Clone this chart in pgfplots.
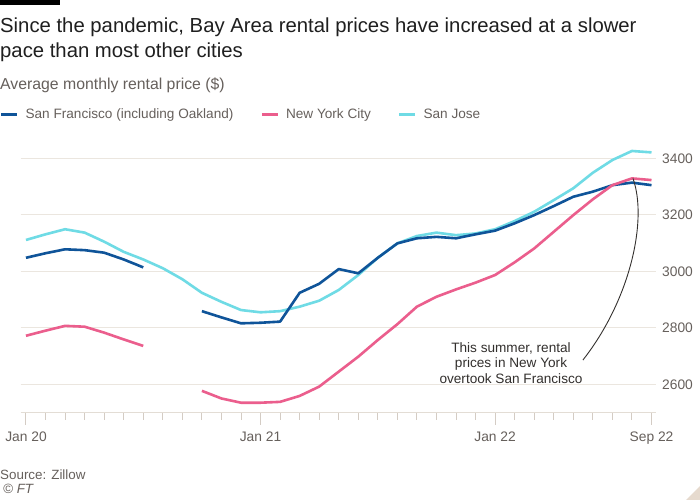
\documentclass[border=0pt]{standalone}
\usepackage{fontspec}
\setmainfont{Liberation Sans}
\usepackage{pgfplots}
\usepackage{pgfplotstable}
\pgfplotsset{compat=1.18}
\definecolor{sfblue}{HTML}{0F5499}
\definecolor{nycpink}{HTML}{EB5E8D}
\definecolor{sjcyan}{HTML}{6FDBE5}
\definecolor{gridc}{HTML}{EBE6DF}
\definecolor{axisc}{HTML}{E3DDD5}
\definecolor{tickc}{HTML}{D4CCC4}
\definecolor{greytext}{HTML}{66605C}
\definecolor{darktext}{HTML}{1F1F1F}
\definecolor{annot}{HTML}{33302E}
\definecolor{corner}{HTML}{E6DACE}

\pgfplotstableread{
m sf nyc sj
0 3048 2772 3111
1 3064 2790 3131
2 3078 2807 3149
3 3075 2804 3137
4 3066 2783 3105
5 3042 2759 3069
6 3014 2736 3042
7 nan nan 3011
8 nan nan 2972
9 2859 2577 2924
10 2837 2550 2892
11 2816 2535 2863
12 2818 2535 2855
13 2822 2538 2859
14 2924 2559 2875
15 2956 2592 2896
16 3008 2645 2934
17 2993 2698 2987
18 3048 2757 3048
19 3099 2813 3099
20 3117 2875 3125
21 3122 2910 3137
22 3117 2936 3128
23 3131 2960 3134
24 3144 2987 3149
25 3170 3032 3178
26 3199 3081 3211
27 3231 3140 3252
28 3264 3199 3294
29 3282 3255 3349
30 3305 3305 3394
31 3314 3329 3426
32 3305 3323 3421
}\rentdata

\begin{document}
\begin{tikzpicture}
\path[use as bounding box, fill=white] (0,0) rectangle (700bp,500bp);
\fill[black] (0,495bp) rectangle (60bp,500bp);
\fill[corner] (700bp,0) -- (700bp,14bp) -- (686bp,0) -- cycle;
\node[anchor=base west, inner sep=0pt, font=\fontsize{20.3bp}{24bp}\selectfont, text=darktext] at (0,467.7bp) {Since the pandemic, Bay Area rental prices have increased at a slower};
\node[anchor=base west, inner sep=0pt, font=\fontsize{20.3bp}{24bp}\selectfont, text=darktext] at (0,442bp) {pace than most other cities};
\node[anchor=base west, inner sep=0pt, font=\fontsize{15.8bp}{19bp}\selectfont, text=greytext] at (0,410.7bp) {Average monthly rental price (\$)};
\begin{axis}[
  at={(20.7bp,87.4bp)}, anchor=south west,
  scale only axis, width=635.3bp, height=268.4bp,
  xmin=-0.27, xmax=32.23, ymin=2500, ymax=3450,
  clip=false,
  unbounded coords=jump,
  axis x line*=bottom, axis y line*=right,
  x axis line style={draw=axisc, line width=1.5bp},
  y axis line style={draw=none},
  xtick={0,12,24,32},
  xticklabels={Jan 20,Jan 21,Jan 22,Sep 22},
  minor xtick={1,2,3,4,5,6,7,8,9,10,11,13,14,15,16,17,18,19,20,21,22,23,25,26,27,28,29,30,31},
  tick align=outside,
  major tick length=12bp, minor tick length=7bp,
  x tick style={draw=tickc, line width=1bp},
  minor x tick style={draw=tickc, line width=1bp},
  ytick={2600,2800,3000,3200,3400},
  y tick style={draw=none},
  ymajorgrids,
  grid style={draw=gridc, line width=1bp},
  /pgf/number format/assume math mode=true,
  /pgf/number format/1000 sep={},
  tick label style={font=\fontsize{13.8bp}{16bp}\selectfont, text=greytext},
  xticklabel style={anchor=base, inner sep=0pt, yshift=-17.1bp},
  yticklabel style={anchor=west, inner sep=0pt, xshift=-6bp},
  legend columns=3,
  legend style={at={(axis description cs:-0.03258,1.110)}, anchor=west,
    draw=none, fill=none, inner sep=0pt, outer sep=0pt,
    font=\fontsize{13.6bp}{16bp}\selectfont, text=greytext,
    nodes={inner sep=0pt},
    /tikz/every odd column/.append style={column sep=7bp},
    /tikz/every even column/.append style={column sep=27bp}},
  legend image code/.code={\draw[#1, line width=2.6bp] (0bp,0bp) -- (16bp,0bp);},
]
\addplot[sjcyan, line width=2.6bp, line join=round, forget plot] table[x=m,y=sj]{\rentdata};
\addplot[sfblue, line width=2.6bp, line join=round, forget plot] table[x=m,y=sf]{\rentdata};
\addplot[nycpink, line width=2.6bp, line join=round, forget plot] table[x=m,y=nyc]{\rentdata};
\addlegendimage{sfblue}
\addlegendentry{San Francisco (including Oakland)}
\addlegendimage{nycpink}
\addlegendentry{New York City}
\addlegendimage{sjcyan}
\addlegendentry{San Jose}
\draw[annot, line width=0.9bp] (axis cs:28.49,2686) .. controls (axis cs:30.90,2898) and (axis cs:31.82,3181) .. (axis cs:31.05,3329);
\end{axis}
\node[anchor=base, inner sep=0pt, font=\fontsize{13.6bp}{16bp}\selectfont, text=annot] at (511bp,147.7bp) {This summer, rental};
\node[anchor=base, inner sep=0pt, font=\fontsize{13.6bp}{16bp}\selectfont, text=annot] at (511bp,132bp) {prices in New York};
\node[anchor=base, inner sep=0pt, font=\fontsize{13.6bp}{16bp}\selectfont, text=annot] at (511bp,116.5bp) {overtook San Francisco};
\node[anchor=base west, inner sep=0pt, font=\fontsize{13.4bp}{16bp}\selectfont, text=greytext] at (0,21bp) {Source: Zillow};
\node[anchor=base west, inner sep=0pt, font=\fontsize{13.4bp}{16bp}\selectfont\itshape, text=greytext] at (3bp,7bp) {© FT};
\end{tikzpicture}
\end{document}
